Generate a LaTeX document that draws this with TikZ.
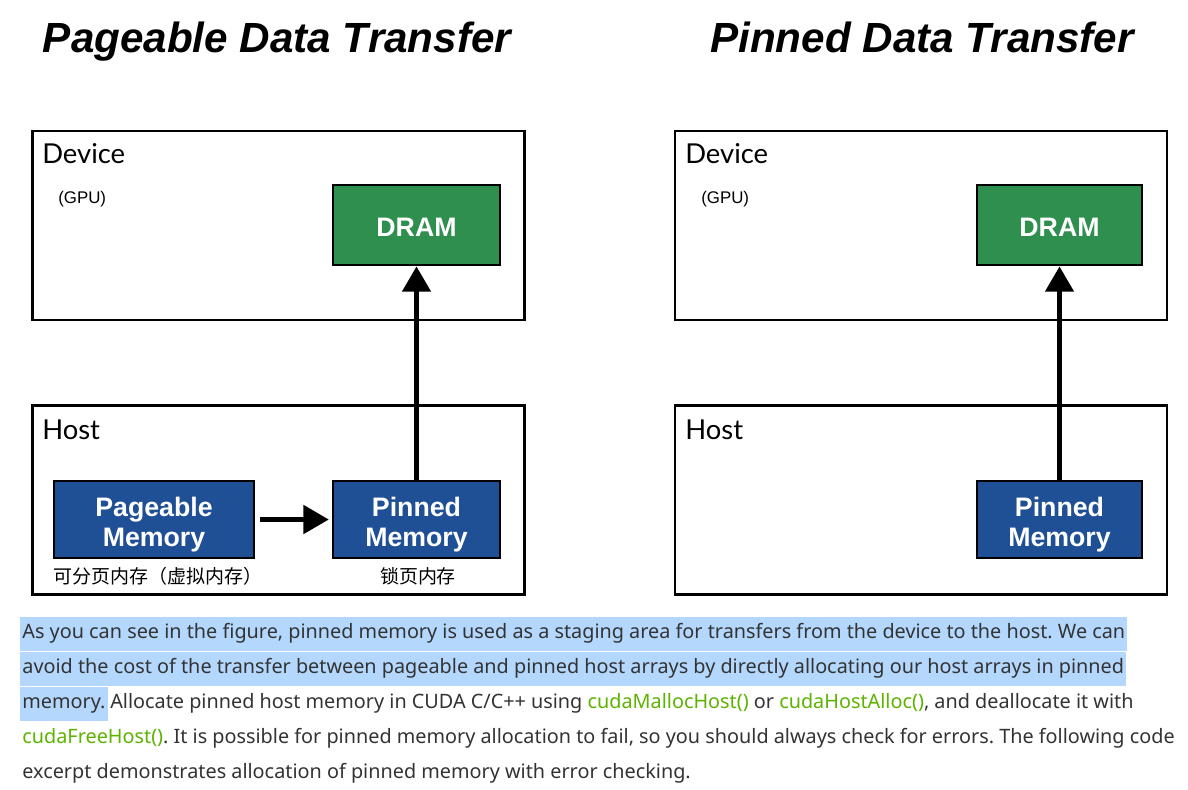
\documentclass[tikz,border=0pt]{standalone}
\usepackage{fontspec}
\setmainfont{Liberation Sans}
\newfontfamily\labelfont{Lato}
\newfontfamily\bodyfont{Noto Sans}
\newfontfamily\cjk{Noto Sans CJK SC}
\usepackage{xcolor}
\usetikzlibrary{arrows.meta}
\usetikzlibrary{positioning}

\definecolor{dramgreen}{HTML}{2F8F4E}
\definecolor{memblue}{HTML}{1F4F95}
\definecolor{hlblue}{HTML}{B4D8FD}
\definecolor{cudagreen}{HTML}{5DB300}
\definecolor{bodygray}{HTML}{333333}
\newcommand{\toppad}{\rule{0pt}{21pt}}

\begin{document}
\frenchspacing
\begin{tikzpicture}[x=0.025cm,y=-0.025cm]
	%\draw[help lines] (0,0) grid[step=100] (1188,789);
	\useasboundingbox (0,0) rectangle (1188,789);

	\tikzstyle{title} = [font=\fontsize{30}{33}\selectfont\bfseries\itshape, anchor=base]
	\tikzstyle{outer} = [draw, line width=1.8pt, minimum width=12.3cm, minimum height=4.73cm, inner sep=0]
	\tikzstyle{blabel} = [font=\labelfont\fontsize{19.5}{22}\selectfont, anchor=base west, inner sep=0]
	\tikzstyle{gpu} = [font=\fontsize{12}{14}\selectfont, anchor=base west, inner sep=0]
	\tikzstyle{dram} = [draw, line width=2pt, fill=dramgreen, text=white, font=\fontsize{19}{22}\selectfont\bfseries, minimum height=2cm]
	\tikzstyle{mem} = [draw, line width=2pt, fill=memblue, text=white, font=\fontsize{19}{22}\selectfont\bfseries, align=center, minimum height=1.925cm]
	\tikzstyle{cn} = [font=\cjk\fontsize{13.5}{15}\selectfont, anchor=base, inner sep=0]
	\tikzstyle{vedge} = [-{Triangle[length=18pt,width=20pt]}, line width=3.2pt]
	\tikzstyle{para} = [font=\bodyfont\fontsize{14.1}{16}\selectfont, text=bodygray, anchor=base west, inner xsep=1.5pt, inner ysep=0, text height=15pt, text depth=9.5pt]

% titles
\node[title] (t1) at (277,52) {Pageable Data Transfer};
\node[title] (t2) at (922,52) {Pinned Data Transfer};

% pageable side
\node[outer] (dev1) at (278.5,225.5) {};
\node[outer] (host1) at (278.5,500) {};
\node[blabel] (dl1) at (42,163) {Device};
\node[gpu] (g1) at (58,203) {(GPU)};
\node[blabel] (hl1) at (42,439) {Host};

\node[dram, minimum width=4.175cm] (dram1) at (416.5,225) {\rule{0pt}{16pt}DRAM};
\node[mem, minimum width=5cm] (page1) at (154,519.5) {\toppad Pageable\\Memory};
\node[mem, minimum width=4.175cm] (pin1) at (416.5,519.5) {\toppad Pinned\\Memory};
\node[cn] (c1) at (158,583) {可分页内存（虚拟内存）};
\node[cn] (c2) at (418,583) {锁页内存};

\draw[vedge, shorten <=3pt, shorten >=2pt] (page1) -- (pin1);
\draw[vedge] (pin1) -- (dram1);

% pinned side
\node[outer] (dev2) at (921,225.5) {};
\node[outer] (host2) at (921,500) {};
\node[blabel] (dl2) at (685,163) {Device};
\node[gpu] (g2) at (701,203) {(GPU)};
\node[blabel] (hl2) at (685,439) {Host};

\node[dram, minimum width=4.125cm] (dram2) at (1059.5,225) {\rule{0pt}{16pt}DRAM};
\node[mem, minimum width=4.125cm] (pin2) at (1059.5,519.5) {\toppad Pinned\\Memory};

\draw[vedge] (pin2) -- (dram2);

% text below
\node[para, fill=hlblue] (p1) at (20,638) {As you can see in the figure, pinned memory is used as a staging area for transfers from the device to the host. We can\ };
\node[para, fill=hlblue] (p2) at (20,673) {avoid the cost of the transfer between pageable and pinned host arrays by directly allocating our host arrays in pinned\ };
\node[para, fill=hlblue] (p3a) at (20,708) {memory.};
\node[para, anchor=base west] (p3b) at (p3a.base east) {Allocate pinned host memory in CUDA C/C++ using \textcolor{cudagreen}{cudaMallocHost()} or \textcolor{cudagreen}{cudaHostAlloc()}, and deallocate it with};
\node[para] (p4) at (20,743) {\textcolor{cudagreen}{cudaFreeHost()}. It is possible for pinned memory allocation to fail, so you should always check for errors. The following code};
\node[para] (p5) at (20,778) {excerpt demonstrates allocation of pinned memory with error checking.};
\end{tikzpicture}
\end{document}
